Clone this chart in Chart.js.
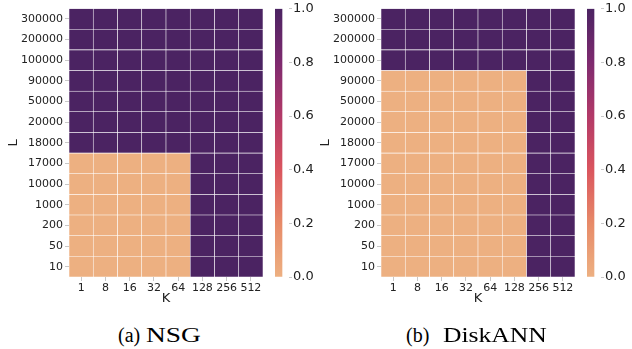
<!DOCTYPE html>
<html>
<head>
<meta charset="utf-8">
<script src="https://cdn.jsdelivr.net/npm/chart.js@4/dist/chart.umd.min.js"></script>
<style>
  html, body { margin: 0; padding: 0; background: #fff; }
  body { width: 632px; height: 349px; position: relative; overflow: hidden; }
  canvas { position: absolute; }
  .cap { position: absolute; top: 322px; font-family: "Liberation Serif", "Times New Roman", serif;
         font-size: 20px; line-height: 26px; color: #000; white-space: nowrap; }
  .wide { display: inline-block; transform-origin: left center; }
</style>
</head>
<body>
<canvas id="hmA" width="270" height="310" style="left:0px;top:0px;width:270px;height:310px"></canvas>
<canvas id="cbA" width="50" height="310" style="left:270px;top:0px;width:50px;height:310px"></canvas>
<canvas id="hmB" width="270" height="310" style="left:312px;top:0px;width:270px;height:310px"></canvas>
<canvas id="cbB" width="50" height="310" style="left:582px;top:0px;width:50px;height:310px"></canvas>
<div class="cap" style="left:118px">(a)</div>
<div class="cap" style="left:146px"><span class="wide" style="transform:scaleX(1.37)">NSG</span></div>
<div class="cap" style="left:406px">(b)</div>
<div class="cap" style="left:443px"><span class="wide" style="transform:scaleX(1.28)">DiskANN</span></div>
<script>
// L values, listed top row first
const lLabels = ['300000', '200000', '100000', '90000', '50000', '20000', '18000', '17000', '10000', '1000', '200', '50', '10'];
// K values along the x axis
const kLabels = ['1', '8', '16', '32', '64', '128', '256', '512'];
// colorbar tick values
const colorbarTicks = [0, 0.2, 0.4, 0.6, 0.8, 1.0];

// NSG: one row per L value (top to bottom), one entry per K
const nsgValues = [
  [1, 1, 1, 1, 1, 1, 1, 1],
  [1, 1, 1, 1, 1, 1, 1, 1],
  [1, 1, 1, 1, 1, 1, 1, 1],
  [1, 1, 1, 1, 1, 1, 1, 1],
  [1, 1, 1, 1, 1, 1, 1, 1],
  [1, 1, 1, 1, 1, 1, 1, 1],
  [1, 1, 1, 1, 1, 1, 1, 1],
  [0, 0, 0, 0, 0, 1, 1, 1],
  [0, 0, 0, 0, 0, 1, 1, 1],
  [0, 0, 0, 0, 0, 1, 1, 1],
  [0, 0, 0, 0, 0, 1, 1, 1],
  [0, 0, 0, 0, 0, 1, 1, 1],
  [0, 0, 0, 0, 0, 1, 1, 1]
];

// DiskANN: one row per L value (top to bottom), one entry per K
const diskannValues = [
  [1, 1, 1, 1, 1, 1, 1, 1],
  [1, 1, 1, 1, 1, 1, 1, 1],
  [1, 1, 1, 1, 1, 1, 1, 1],
  [0, 0, 0, 0, 0, 0, 1, 1],
  [0, 0, 0, 0, 0, 0, 1, 1],
  [0, 0, 0, 0, 0, 0, 1, 1],
  [0, 0, 0, 0, 0, 0, 1, 1],
  [0, 0, 0, 0, 0, 0, 1, 1],
  [0, 0, 0, 0, 0, 0, 1, 1],
  [0, 0, 0, 0, 0, 0, 1, 1],
  [0, 0, 0, 0, 0, 0, 1, 1],
  [0, 0, 0, 0, 0, 0, 1, 1],
  [0, 0, 0, 0, 0, 0, 1, 1]
];

// "flare"-like colour ramp, light orange at 0 to dark purple at 1
const rampStops = [
  [0.0, [237, 176, 129]],
  [0.2, [231, 138, 104]],
  [0.4, [218, 85, 94]],
  [0.6, [178, 57, 104]],
  [0.8, [126, 42, 111]],
  [1.0, [75, 35, 98]]
];

function rampColor(v) {
  for (let i = 1; i < rampStops.length; i++) {
    const [p1, c1] = rampStops[i];
    const [p0, c0] = rampStops[i - 1];
    if (v <= p1) {
      const t = (v - p0) / (p1 - p0);
      const c = c0.map((x, j) => Math.round(x + (c1[j] - x) * t));
      return `rgb(${c[0]},${c[1]},${c[2]})`;
    }
  }
  const c = rampStops[rampStops.length - 1][1];
  return `rgb(${c[0]},${c[1]},${c[2]})`;
}

const tickFont = { family: 'DejaVu Sans', size: 11 };
const titleFont = { family: 'DejaVu Sans', size: 13 };

function heatmap(id, values) {
  const nRows = values.length;
  // stacked bars: bottom row first, each cell has height 1
  const datasets = [];
  for (let r = nRows - 1; r >= 0; r--) {
    const row = values[r];
    datasets.push({
      label: lLabels[r],
      data: row.map(() => 1),
      backgroundColor: row.map(v => rampColor(v)),
      borderColor: 'rgba(255,255,255,0.8)',
      borderWidth: 0.6,
      borderSkipped: false,
      barPercentage: 1,
      categoryPercentage: 1
    });
  }
  const bottomUp = lLabels.slice().reverse();
  return new Chart(document.getElementById(id), {
    type: 'bar',
    data: { labels: kLabels, datasets },
    options: {
      responsive: false,
      animation: false,
      events: [],
      layout: { padding: { left: 0, top: 7, right: 7, bottom: 0 } },
      plugins: { legend: { display: false }, tooltip: { enabled: false } },
      scales: {
        x: {
          stacked: true,
          offset: true,
          border: { display: false },
          grid: { offset: false, drawOnChartArea: false, drawTicks: true, tickLength: 4, tickColor: '#c8c8c8' },
          ticks: { font: tickFont, color: '#222', padding: 1, maxRotation: 0, autoSkip: false },
          title: { display: true, text: 'K', font: titleFont, color: '#222', padding: { top: 0, bottom: 4 } },
          afterFit: s => { s.height = 33; }
        },
        y: {
          stacked: true,
          min: 0,
          max: nRows,
          border: { display: false },
          grid: { drawOnChartArea: false, drawTicks: true, tickLength: 4, tickColor: '#c8c8c8' },
          afterBuildTicks: s => { s.ticks = bottomUp.map((_, i) => ({ value: i + 0.5 })); },
          ticks: {
            font: tickFont, color: '#222', padding: 2, autoSkip: false,
            callback: (v, i) => bottomUp[i]
          },
          title: { display: true, text: 'L', font: titleFont, color: '#222', padding: { top: 6, bottom: 0 } },
          afterFit: s => { s.width = 69; }
        }
      }
    }
  });
}

function colorbar(id) {
  return new Chart(document.getElementById(id), {
    type: 'bar',
    data: {
      labels: [''],
      datasets: [{
        data: [[0, 1]],
        barPercentage: 1,
        categoryPercentage: 1,
        borderWidth: 0,
        backgroundColor: ctx => {
          const area = ctx.chart.chartArea;
          if (!area) return rampColor(0.5);
          const g = ctx.chart.ctx.createLinearGradient(0, area.bottom, 0, area.top);
          for (let i = 0; i <= 50; i++) g.addColorStop(i / 50, rampColor(i / 50));
          return g;
        }
      }]
    },
    options: {
      responsive: false,
      animation: false,
      events: [],
      layout: { padding: { left: 5, top: 7, right: 0, bottom: 33 } },
      plugins: { legend: { display: false }, tooltip: { enabled: false } },
      scales: {
        x: { display: false, offset: false },
        y: {
          position: 'right',
          min: 0,
          max: 1,
          border: { display: false },
          grid: { drawOnChartArea: false, drawTicks: true, tickLength: 3, tickColor: '#c8c8c8' },
          afterBuildTicks: s => { s.ticks = colorbarTicks.map(v => ({ value: v })); },
          ticks: {
            font: { family: 'DejaVu Sans', size: 13 }, color: '#222', padding: 1, autoSkip: false,
            callback: v => Number(v).toFixed(1)
          },
          afterFit: s => { s.width = 31; }
        }
      }
    }
  });
}

heatmap('hmA', nsgValues);
colorbar('cbA');
heatmap('hmB', diskannValues);
colorbar('cbB');
</script>
</body>
</html>
